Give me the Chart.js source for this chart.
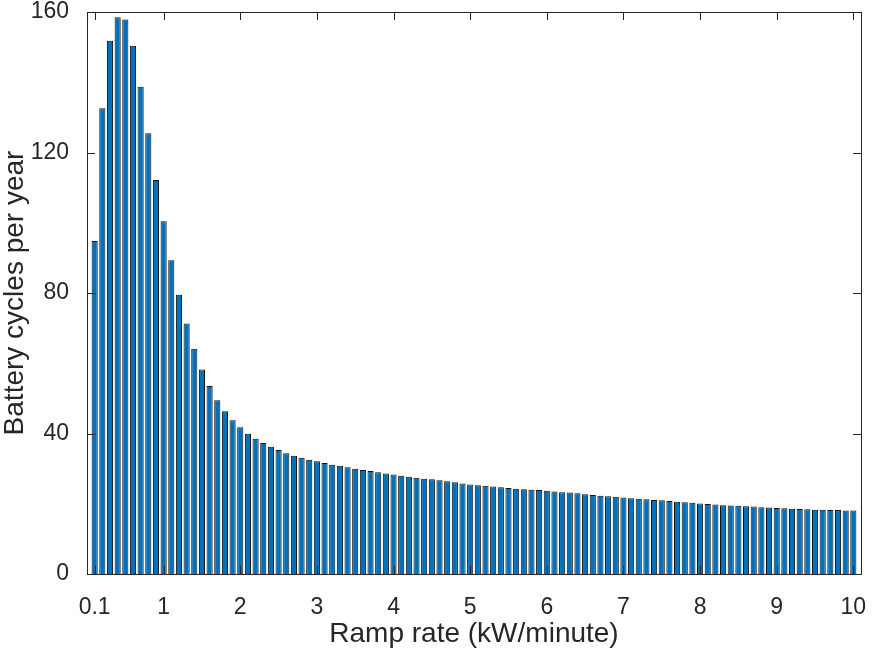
<!DOCTYPE html>
<html>
<head>
<meta charset="utf-8">
<script src="https://cdn.jsdelivr.net/npm/chart.js@4/dist/chart.umd.min.js"></script>
<style>
  html, body { margin: 0; padding: 0; background: #fff; }
  #wrap { width: 872px; height: 649px; }
</style>
</head>
<body>
<div id="wrap"><canvas id="chart" width="872" height="649"></canvas></div>
<script>
// ramp rate categories (kW/minute)
const rampRates = [
  0.1, 0.2, 0.3, 0.4, 0.5, 0.6, 0.7, 0.8, 0.9, 1.0,
  1.1, 1.2, 1.3, 1.4, 1.5, 1.6, 1.7, 1.8, 1.9, 2.0,
  2.1, 2.2, 2.3, 2.4, 2.5, 2.6, 2.7, 2.8, 2.9, 3.0,
  3.1, 3.2, 3.3, 3.4, 3.5, 3.6, 3.7, 3.8, 3.9, 4.0,
  4.1, 4.2, 4.3, 4.4, 4.5, 4.6, 4.7, 4.8, 4.9, 5.0,
  5.1, 5.2, 5.3, 5.4, 5.5, 5.6, 5.7, 5.8, 5.9, 6.0,
  6.1, 6.2, 6.3, 6.4, 6.5, 6.6, 6.7, 6.8, 6.9, 7.0,
  7.1, 7.2, 7.3, 7.4, 7.5, 7.6, 7.7, 7.8, 7.9, 8.0,
  8.1, 8.2, 8.3, 8.4, 8.5, 8.6, 8.7, 8.8, 8.9, 9.0,
  9.1, 9.2, 9.3, 9.4, 9.5, 9.6, 9.7, 9.8, 9.9, 10.0
];

// battery cycles per year
const cyclesPerYear = [
  94.8, 132.6, 151.8, 158.5, 157.9, 150.4, 138.7, 125.5, 112.2, 100.4,
  89.3, 79.5, 71.3, 64.1, 58.2, 53.5, 49.5, 46.3, 43.8, 41.8,
  39.9, 38.5, 37.3, 36.2, 35.3, 34.4, 33.7, 33.1, 32.5, 32.1,
  31.6, 31.1, 30.8, 30.4, 30.0, 29.6, 29.3, 29.0, 28.6, 28.3,
  28.0, 27.7, 27.4, 27.1, 27.0, 26.7, 26.4, 26.1, 25.8, 25.5,
  25.3, 25.1, 24.9, 24.7, 24.5, 24.3, 24.1, 24.0, 23.9, 23.7,
  23.5, 23.3, 23.2, 23.0, 22.7, 22.5, 22.3, 22.1, 22.0, 21.8,
  21.6, 21.4, 21.3, 21.1, 21.0, 20.8, 20.6, 20.4, 20.3, 20.1,
  19.9, 19.8, 19.6, 19.5, 19.4, 19.3, 19.2, 19.0, 18.9, 18.8,
  18.7, 18.6, 18.5, 18.4, 18.3, 18.3, 18.2, 18.2, 18.1, 18.1
];

const xTicks = [0.1, 1, 2, 3, 4, 5, 6, 7, 8, 9, 10];
const yTicks = [0, 40, 80, 120, 160];

const axisColor = '#262626';
const fontFamily = '"Liberation Sans", Arial, Helvetica, sans-serif';

// MATLAB style box with inward tick marks on all four sides
const boxPlugin = {
  id: 'matlabBox',
  afterDatasetsDraw(chart) {
    const { ctx, chartArea: a, scales } = chart;
    const len = 8;
    ctx.save();
    ctx.strokeStyle = axisColor;
    ctx.lineWidth = 1;
    ctx.beginPath();
    xTicks.forEach(v => {
      const x = Math.round(scales.x.getPixelForValue(v)) + 0.5;
      ctx.moveTo(x, a.bottom);
      ctx.lineTo(x, a.bottom - len);
      ctx.moveTo(x, a.top);
      ctx.lineTo(x, a.top + len);
    });
    yTicks.forEach(v => {
      const y = Math.round(scales.y.getPixelForValue(v)) + 0.5;
      ctx.moveTo(a.left, y);
      ctx.lineTo(a.left + len, y);
      ctx.moveTo(a.right, y);
      ctx.lineTo(a.right - len, y);
    });
    ctx.stroke();
    ctx.strokeRect(Math.round(a.left) + 0.5, Math.round(a.top) + 0.5,
      Math.round(a.right - a.left), Math.round(a.bottom - a.top));
    ctx.restore();
  }
};

document.addEventListener('DOMContentLoaded', () => {
  const ctx = document.getElementById('chart').getContext('2d');
  new Chart(ctx, {
    type: 'bar',
    data: {
      datasets: [{
        data: rampRates.map((r, i) => ({ x: r, y: cyclesPerYear[i] })),
        backgroundColor: '#0072BD',
        borderColor: '#111111',
        borderWidth: 1,
        barPercentage: 0.8,
        categoryPercentage: 1.0
      }]
    },
    options: {
      responsive: false,
      animation: false,
      layout: { padding: { left: 0, right: 11, top: 12, bottom: 0 } },
      plugins: {
        legend: { display: false },
        tooltip: { enabled: false }
      },
      scales: {
        x: {
          type: 'linear',
          min: 0,
          max: 10.1,
          offset: false,
          grid: { display: false, offset: false },
          border: { display: false },
          afterBuildTicks: scale => { scale.ticks = xTicks.map(v => ({ value: v })); },
          afterFit: scale => {
            scale.height = 75;
            scale.paddingLeft = 0;
            scale.paddingRight = 0;
          },
          ticks: {
            color: axisColor,
            padding: 12,
            maxRotation: 0,
            autoSkip: false,
            font: { family: fontFamily, size: 23 },
            callback: v => (v === 0.1 ? '0.1' : String(v))
          },
          title: {
            display: true,
            text: 'Ramp rate (kW/minute)',
            color: axisColor,
            padding: { top: 0, bottom: 1 },
            font: { family: fontFamily, size: 28, lineHeight: 1 }
          }
        },
        y: {
          min: 0,
          max: 160,
          grid: { display: false },
          border: { display: false },
          afterBuildTicks: scale => { scale.ticks = yTicks.map(v => ({ value: v })); },
          afterFit: scale => {
            scale.width = 87;
            scale.paddingTop = 0;
            scale.paddingBottom = 0;
          },
          ticks: {
            color: axisColor,
            padding: 10,
            font: { family: fontFamily, size: 23 }
          },
          title: {
            display: true,
            text: 'Battery cycles per year',
            color: axisColor,
            padding: { top: 1, bottom: 0 },
            font: { family: fontFamily, size: 28, lineHeight: 1 }
          }
        }
      }
    },
    plugins: [boxPlugin]
  });
});
</script>
</body>
</html>
